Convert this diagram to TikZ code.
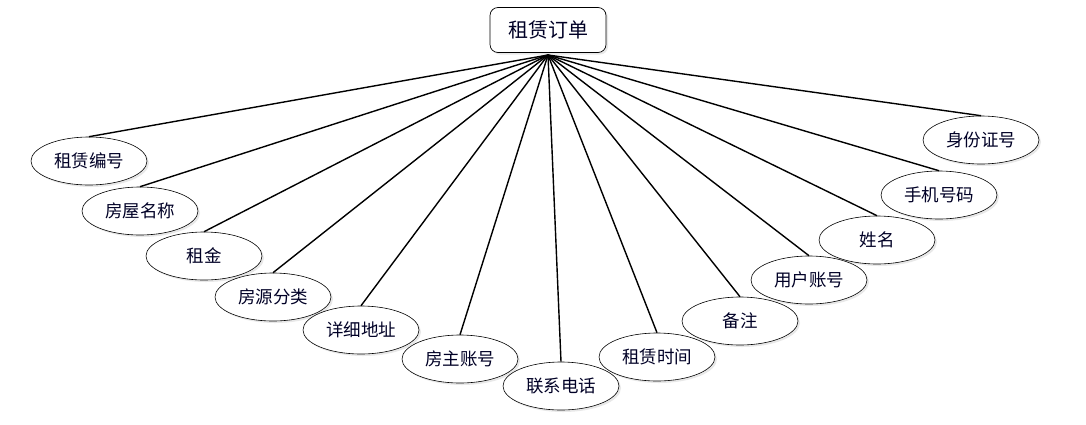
\documentclass[tikz,border=0pt]{standalone}
\usepackage{fontspec}
\newfontfamily\cjk{Noto Sans CJK SC}
\usetikzlibrary{shapes.geometric, shadows}

\begin{document}
\begin{tikzpicture}[
    x=1pt, y=-1pt,
    root/.style={draw, rounded corners=8pt, fill=white, line width=0.7pt,
        minimum width=116pt, minimum height=45pt, inner sep=0pt,
        font=\cjk\fontsize{20}{22}\selectfont, text=black!85!blue,
        drop shadow={opacity=0.18, shadow xshift=2pt, shadow yshift=-2pt}}, % Style for the entity
    attr/.style={draw, ellipse, fill=white, line width=0.6pt,
        minimum width=116pt, minimum height=48pt, inner sep=0pt,
        font=\cjk\fontsize{17.5}{19}\selectfont, text=black!85!blue,
        drop shadow={opacity=0.18, shadow xshift=2pt, shadow yshift=-2pt}}, % Style for attributes
    link/.style={line width=1.4pt} % Style for connectors
]

    % Fix the canvas to the reference size
    \useasboundingbox (0,0) rectangle (1086,424);

    % Entity and the point where all connectors meet
    \node[root] (order) at (548,30) {租赁订单};
    \coordinate (hub) at (548,55);

    % Attributes, left to right along the arc
    \node[attr] (rentno) at (89,161) {租赁编号};
    \node[attr] (house) at (140,211) {房屋名称};
    \node[attr] (rent) at (204,256) {租金};
    \node[attr] (kind) at (273,297) {房源分类};
    \node[attr] (addr) at (361,330) {详细地址};
    \node[attr] (owner) at (460,359) {房主账号};
    \node[attr] (phone) at (561,386) {联系电话};
    \node[attr] (time) at (657,357) {租赁时间};
    \node[attr] (note) at (740,321) {备注};
    \node[attr] (user) at (809,280) {用户账号};
    \node[attr] (name) at (877,240) {姓名};
    \node[attr] (mobile) at (939,195) {手机号码};
    \node[attr] (idno) at (981,140) {身份证号};

    % Connectors from the entity to every attribute
    \draw[link] (hub) -- (rentno.north);
    \draw[link] (hub) -- (house.north);
    \draw[link] (hub) -- (rent.north);
    \draw[link] (hub) -- (kind.north);
    \draw[link] (hub) -- (addr.north);
    \draw[link] (hub) -- (owner.north);
    \draw[link] (hub) -- (phone.north);
    \draw[link] (hub) -- (time.north);
    \draw[link] (hub) -- (note.north);
    \draw[link] (hub) -- (user.north);
    \draw[link] (hub) -- (name.north);
    \draw[link] (hub) -- (mobile.north);
    \draw[link] (hub) -- (idno.north);

\end{tikzpicture}
\end{document}
